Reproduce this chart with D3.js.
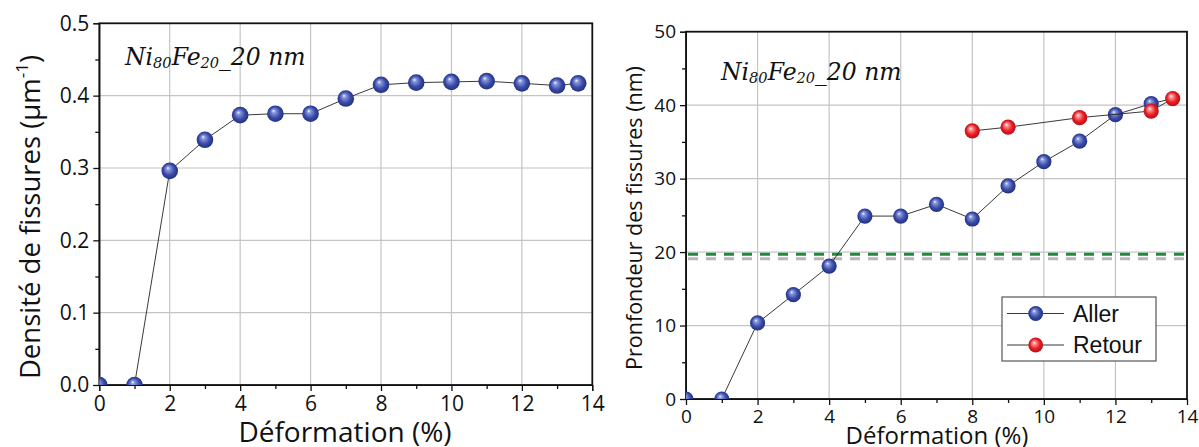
<!DOCTYPE html>
<html><head><meta charset="utf-8">
<script src="https://cdn.jsdelivr.net/npm/d3@7/dist/d3.min.js"></script>
<style>body{margin:0;background:#fff}svg{display:block}</style>
</head><body>
<svg id="c" width="1199" height="447"></svg>
<script>
// ---- data ----
const strainA = [0,1,2,3,4,5,6,7,8,9,10,11,12,13,13.6];
const density = [0,0,0.296,0.339,0.373,0.375,0.375,0.396,0.415,0.418,0.419,0.420,0.417,0.414,0.417];
const strainB = [0,1,2,3,4,5,6,7,8,9,10,11,12,13,13.6];
const depthAller = [0,0,10.35,14.2,18.1,24.9,24.9,26.5,24.5,29.0,32.3,35.1,38.7,40.2,40.9];
const strainRetour = [13.6,13,11,9,8];
const depthRetour = [40.9,39.2,38.3,37.0,36.5];
const refLines = [19.7,19.1];
const xTicks = [0,2,4,6,8,10,12,14];
const yTicksL = [0,0.1,0.2,0.3,0.4,0.5];
const yTicksR = [0,10,20,30,40,50];
const sampleLabel = ["Ni","80","Fe","20","_20 nm"];
const legendLabels = ["Aller","Retour"];

const svg = d3.select("#c");
const defs = svg.append("defs");
function grad(id, hi, mid, lo){
  const g = defs.append("radialGradient").attr("id",id).attr("cx","50%").attr("cy","50%").attr("r","55%").attr("fx","38%").attr("fy","32%");
  g.append("stop").attr("offset","0%").attr("stop-color","#ffffff");
  g.append("stop").attr("offset","18%").attr("stop-color",hi);
  g.append("stop").attr("offset","60%").attr("stop-color",mid);
  g.append("stop").attr("offset","100%").attr("stop-color",lo);
}
grad("gBlue","#8d9be0","#3a4ca8","#1c2a78");
grad("gRed","#ff9a9a","#ec1c24","#a50f14");

const tickFont = "'Open Sans', sans-serif";

function panel(cfg){
  const {x0,x1,yTop,yBot,yDomain,yTicks,yMinor,fmt,id,tickSize} = cfg;
  const x = d3.scaleLinear().domain([0,14]).range([x0,x1]);
  const y = d3.scaleLinear().domain(yDomain).range([yBot,yTop]);
  const g = svg.append("g");
  defs.append("clipPath").attr("id",id).append("rect").attr("x",x0).attr("y",yTop).attr("width",x1-x0).attr("height",yBot-yTop);
  // grid
  g.append("g").selectAll("line").data(xTicks.slice(1,-1)).join("line")
    .attr("x1",d=>x(d)).attr("x2",d=>x(d)).attr("y1",yTop).attr("y2",yBot)
    .attr("stroke","#c4c4c4").attr("stroke-width",1.2);
  g.append("g").selectAll("line").data(yTicks.slice(1,-1)).join("line")
    .attr("y1",d=>y(d)).attr("y2",d=>y(d)).attr("x1",x0).attr("x2",x1)
    .attr("stroke","#c4c4c4").attr("stroke-width",1.2);
  // axes
  const xAx = g.append("g").attr("transform",`translate(0,${yBot})`)
    .call(d3.axisBottom(x).tickValues(xTicks).tickSize(6).tickPadding(5).tickFormat(d3.format("d")));
  g.append("g").attr("transform",`translate(0,${yBot})`)
    .call(d3.axisBottom(x).tickValues(d3.range(1,14,2)).tickSize(4).tickFormat(""))
    .call(a=>a.select(".domain").remove());
  const yAx = g.append("g").attr("transform",`translate(${x0},0)`)
    .call(d3.axisLeft(y).tickValues(yTicks).tickSize(6).tickPadding(4).tickFormat(fmt));
  g.append("g").attr("transform",`translate(${x0},0)`)
    .call(d3.axisLeft(y).tickValues(yMinor).tickSize(4).tickFormat(""))
    .call(a=>a.select(".domain").remove());
  [xAx,yAx].forEach(a=>{a.selectAll("text").attr("font-family",tickFont).attr("font-size",tickSize).attr("fill","#111");
    a.selectAll("line").attr("stroke","#111").attr("stroke-width",1.3);});
  g.selectAll(".tick line").attr("stroke","#111").attr("stroke-width",1.3);
  // frame
  g.append("rect").attr("x",x0).attr("y",yTop).attr("width",x1-x0).attr("height",yBot-yTop)
    .attr("fill","none").attr("stroke","#111").attr("stroke-width",1.8);
  return {x,y,g};
}

// ---------- left panel ----------
const L = panel({x0:99.3,x1:592.3,yTop:23.3,yBot:385,yDomain:[0,0.5],yTicks:yTicksL,
  yMinor:[0.05,0.15,0.25,0.35,0.45],fmt:d3.format(".1f"),id:"clipL",tickSize:21});
const lineGen = (x,y)=>d3.line().x(d=>x(d[0])).y(d=>y(d[1]));
const dL = strainA.map((s,i)=>[s,density[i]]);
const mL = L.g.append("g").attr("clip-path","url(#clipL)");
mL.append("path").datum(dL).attr("d",lineGen(L.x,L.y)).attr("fill","none").attr("stroke","#222").attr("stroke-width",0.9);
mL.selectAll("circle").data(dL).join("circle").attr("cx",d=>L.x(d[0])).attr("cy",d=>L.y(d[1])).attr("r",8.3)
  .attr("fill","url(#gBlue)");
// sample label
function sample(g,x,y,fs){
  const t = g.append("text").attr("x",x).attr("y",y).attr("font-family","'DejaVu Serif', serif").attr("font-style","italic").attr("font-size",fs).attr("fill","#111");
  sampleLabel.forEach((s,i)=>{
    const sp = t.append("tspan").text(s);
    if(i===1||i===3){sp.attr("font-size",fs*0.62).attr("dy",fs*0.12);}
    else if(i>1){sp.attr("dy",-fs*0.12);}
  });
}
sample(svg,125,65,23.5);
svg.append("text").attr("x",345).attr("y",442).attr("text-anchor","middle").attr("font-family",tickFont).attr("font-size",28).attr("fill","#111").text("Déformation (%)");
const yl = svg.append("text").attr("transform","translate(40,217) rotate(-90)").attr("text-anchor","middle").attr("font-family",tickFont).attr("font-size",27.5).attr("fill","#111");
yl.append("tspan").text("Densité de fissures (µm");
yl.append("tspan").text("-1").attr("font-size",17).attr("dy",-12);
yl.append("tspan").text(")").attr("dy",12);

// ---------- right panel ----------
const R = panel({x0:686,x1:1187,yTop:31.7,yBot:399,yDomain:[0,50],yTicks:yTicksR,
  yMinor:[5,15,25,35,45],fmt:d3.format("d"),id:"clipR",tickSize:19});
const refColors = ["#1e8a3c","#b8b8b8"];
R.g.append("g").selectAll("line").data(refLines).join("line")
  .attr("x1",R.x(0)+2).attr("x2",R.x(14)).attr("y1",d=>R.y(d)).attr("y2",d=>R.y(d))
  .attr("stroke",(d,i)=>refColors[i]).attr("stroke-width",3).attr("stroke-dasharray","10,8");
const dA = strainB.map((s,i)=>[s,depthAller[i]]);
const dR = strainRetour.map((s,i)=>[s,depthRetour[i]]);
const mR = R.g.append("g").attr("clip-path","url(#clipR)");
mR.append("path").datum(dA).attr("d",lineGen(R.x,R.y)).attr("fill","none").attr("stroke","#222").attr("stroke-width",0.9);
mR.selectAll("circle.a").data(dA.slice(0,-1)).join("circle").attr("class","a").attr("cx",d=>R.x(d[0])).attr("cy",d=>R.y(d[1])).attr("r",7.6).attr("fill","url(#gBlue)");
mR.append("path").datum(dR).attr("d",lineGen(R.x,R.y)).attr("fill","none").attr("stroke","#222").attr("stroke-width",0.9);
mR.selectAll("circle.r").data(dR).join("circle").attr("class","r").attr("cx",d=>R.x(d[0])).attr("cy",d=>R.y(d[1])).attr("r",7.6).attr("fill","url(#gRed)");
sample(svg,721,80,23.5);
svg.append("text").attr("x",937).attr("y",444).attr("text-anchor","middle").attr("font-family",tickFont).attr("font-size",24).attr("fill","#111").text("Déformation (%)");
svg.append("text").attr("transform","translate(642,218) rotate(-90)").attr("text-anchor","middle").attr("font-family",tickFont).attr("font-size",21.5).attr("fill","#111").text("Pronfondeur des fissures (nm)");

// legend
const lg = svg.append("g");
lg.append("rect").attr("x",1002).attr("y",297).attr("width",154).attr("height",64).attr("fill","#fff").attr("stroke","#555").attr("stroke-width",1.2);
const lgFill = ["url(#gBlue)","url(#gRed)"];
legendLabels.forEach((t,i)=>{
  const yy = 313.5 + i*31.5;
  lg.append("line").attr("x1",1007).attr("x2",1064).attr("y1",yy).attr("y2",yy).attr("stroke","#222").attr("stroke-width",0.9);
  lg.append("circle").attr("cx",1035.7).attr("cy",yy).attr("r",7.4).attr("fill",lgFill[i]);
  lg.append("text").attr("x",1073).attr("y",yy+8).attr("font-family","'Liberation Sans', Arial, sans-serif").attr("font-size",23).attr("fill","#111").text(t);
});
</script>
</body></html>
